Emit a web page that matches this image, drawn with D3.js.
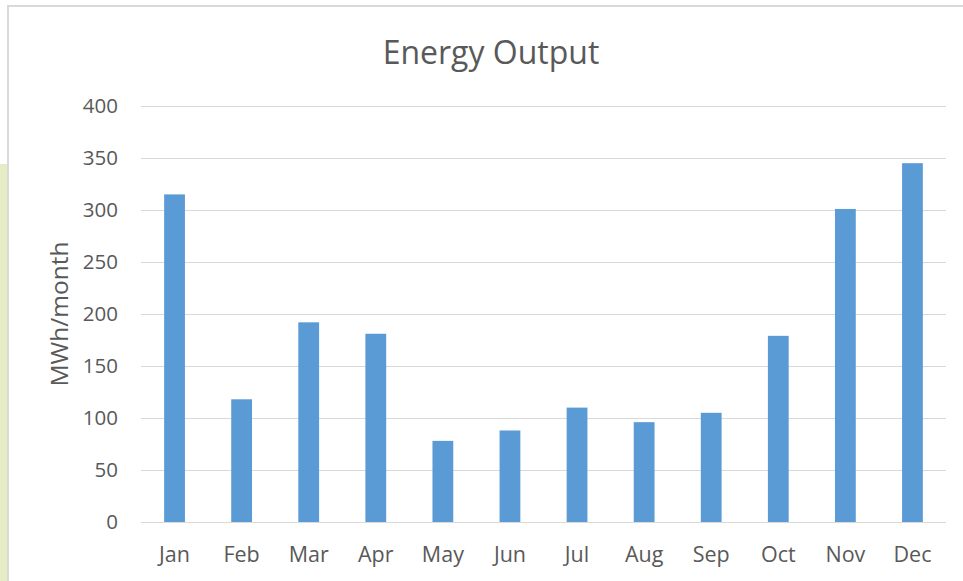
<!DOCTYPE html>
<meta charset="utf-8">
<style>
body { margin: 0; background: #fff; }
text { font-family: "Open Sans", Lato, sans-serif; fill: #595959; }
.grid line { stroke: #d9d9d9; stroke-width: 1px; shape-rendering: crispEdges; }
</style>
<svg width="963" height="581"></svg>
<script src="https://cdn.jsdelivr.net/npm/d3@7"></script>
<script>
// chart data
var months = ["Jan", "Feb", "Mar", "Apr", "May", "Jun", "Jul", "Aug", "Sep", "Oct", "Nov", "Dec"];
var output = [315, 118, 192, 181, 78, 88, 110, 96, 105, 179, 301, 345];
var yTicks = [0, 50, 100, 150, 200, 250, 300, 350, 400];

var svg = d3.select("svg");

// page strip on the left and chart frame
svg.append("rect").attr("x", 0).attr("y", 164).attr("width", 8).attr("height", 417).attr("fill", "#e6edc6");
svg.append("rect").attr("x", 8).attr("y", 6).attr("width", 960).attr("height", 580)
    .attr("fill", "#fff").attr("stroke", "#d9d9d9").attr("stroke-width", 2);

var plotLeft = 141, plotRight = 946, plotTop = 106, plotBottom = 522;

var x = d3.scaleBand()
    .domain(months)
    .range([plotLeft, plotRight])
    .paddingInner(0.69)
    .paddingOuter(0.345);

var y = d3.scaleLinear()
    .domain([0, 400])
    .range([plotBottom, plotTop]);

// gridlines
svg.append("g").attr("class", "grid")
  .selectAll("line")
  .data(yTicks)
  .enter().append("line")
    .attr("x1", plotLeft).attr("x2", plotRight)
    .attr("y1", function(d) { return Math.round(y(d)) + 0.5; })
    .attr("y2", function(d) { return Math.round(y(d)) + 0.5; });

// bars
svg.append("g")
  .selectAll("rect")
  .data(output)
  .enter().append("rect")
    .attr("x", function(d, i) { return x(months[i]); })
    .attr("y", function(d) { return y(d); })
    .attr("width", x.bandwidth())
    .attr("height", function(d) { return y(0) - y(d); })
    .attr("fill", "#5b9bd5");

// y tick labels
svg.append("g")
  .selectAll("text")
  .data(yTicks)
  .enter().append("text")
    .attr("x", 118)
    .attr("y", function(d) { return y(d); })
    .attr("dy", "0.36em")
    .attr("text-anchor", "end")
    .style("font-size", "20.5px")
    .text(function(d) { return d; });

// x labels
svg.append("g")
  .selectAll("text")
  .data(months)
  .enter().append("text")
    .attr("x", function(d) { return x(d) + x.bandwidth() / 2; })
    .attr("y", 562)
    .attr("text-anchor", "middle")
    .style("font-size", "21.5px")
    .text(function(d) { return d; });

// title
svg.append("text")
    .attr("x", 491).attr("y", 64)
    .attr("text-anchor", "middle")
    .style("font-size", "32px")
    .text("Energy Output");

// y axis title
svg.append("text")
    .attr("transform", "translate(68,314) rotate(-90)")
    .attr("text-anchor", "middle")
    .style("font-size", "24.5px")
    .text("MWh/month");
</script>
